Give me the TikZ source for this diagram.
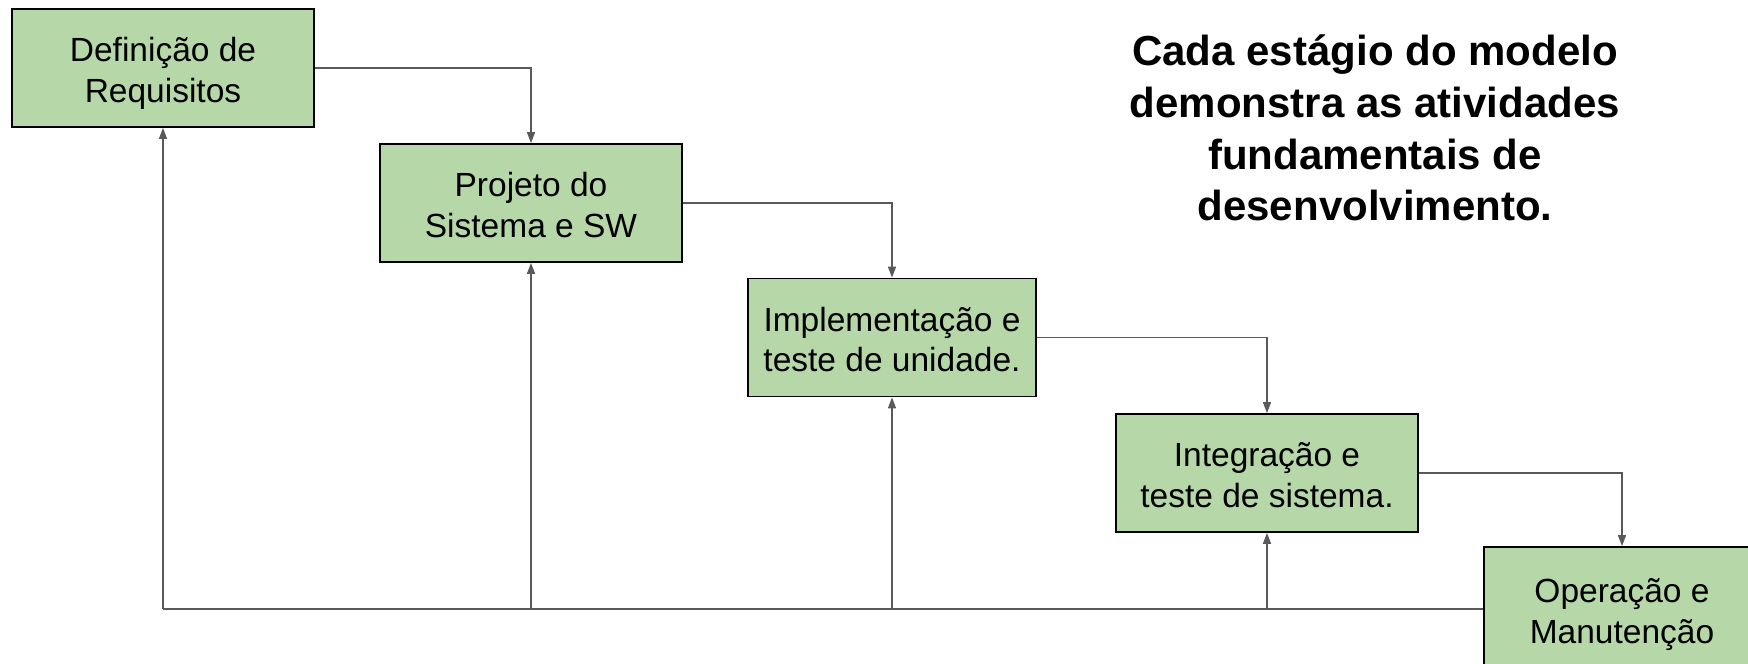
\documentclass[tikz,border=0pt]{standalone}
\usepackage{fontspec}
\setmainfont{Liberation Sans}
\usepackage{tikz}
\usetikzlibrary{arrows.meta}

\definecolor{stagegreen}{HTML}{B6D7A8}
\definecolor{linegray}{HTML}{595959}

\tikzset{
  stage/.style={draw=black, line width=0.7pt, fill=stagegreen, inner sep=0pt,
    minimum width=121pt, minimum height=47.2pt, align=center,
    font=\fontsize{13.4}{16.2}\selectfont,
    text height=30.8pt, text depth=3.6pt},
  flow/.style={draw=linegray, line width=0.6pt},
  flowarrow/.style={flow, -{Triangle[width=3.2pt,length=4.4pt]}},
  note/.style={align=center, font=\fontsize{16.8}{20.7}\selectfont\bfseries}
}

\begin{document}
\begin{tikzpicture}[x=0.4pt,y=-0.4pt]
    \useasboundingbox (0,0) rectangle (1748,663);
    % Draw the stages of the model
    \node[stage] (req) at (163,68) {Definição de\\Requisitos};
    \node[stage] (proj) at (531,203) {Projeto do\\Sistema e SW};
    \node[stage, minimum width=115.2pt] (impl) at (892,337.5) {Implementação e\\teste de unidade.};
    \node[stage] (integ) at (1267,473) {Integração e\\teste de sistema.};
    \node[stage, minimum width=110.4pt, minimum height=49.6pt] (oper) at (1622,609) {Operação e\\Manutenção};
    % Draw the arrows between the stages
    \foreach \a/\b in {req/proj, proj/impl, impl/integ, integ/oper}{
      \draw[flowarrow] (\a.east) -| (\b.north);
    }
    % Draw the feedback line
    \coordinate (back) at (req.south |- oper.west);
    \draw[flow] (oper.west) -- (back);
    \draw[flowarrow] (back) -- (req.south);
    \foreach \n in {proj, impl, integ}{
      \draw[flowarrow] (\n.south |- oper.west) -- (\n.south);
    }
    % Draw the note
    \node[note] (text) at (1375,128) {Cada estágio do modelo\\demonstra as atividades\\fundamentais de\\desenvolvimento.};
  \end{tikzpicture}
\end{document}
